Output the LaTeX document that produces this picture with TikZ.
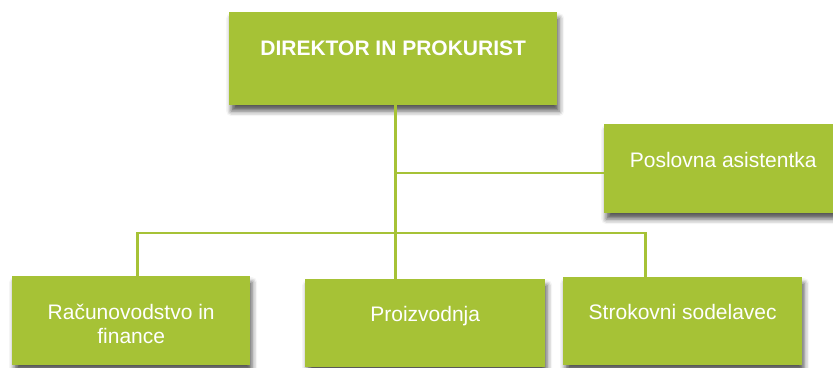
\documentclass[tikz,border=0pt]{standalone}
\usepackage{fontspec}
\setmainfont{Liberation Sans}
\usetikzlibrary{shadows.blur}
\definecolor{zelena}{RGB}{166,194,54}

\begin{document}
\begin{tikzpicture}[x=1pt,y=-1pt,
	enota/.style={rectangle, fill=zelena, text=white, inner sep=0pt, anchor=north west, align=center,
		font=\fontsize{21}{24}\selectfont, minimum width=238pt, text height=42pt, text depth=47pt,
		blur shadow={shadow xshift=2pt, shadow yshift=-6pt, shadow blur radius=5pt, shadow opacity=65}},
	povezava/.style={draw=zelena, line width=2.7pt}]
\useasboundingbox (0,0) rectangle (833,367);
\node [enota, minimum width=328pt, text height=43pt, text depth=50pt, font=\fontsize{21}{24}\selectfont\bfseries] (dir) at (229,12) {DIREKTOR IN PROKURIST};
\node [enota, text height=43pt, text depth=46pt] (asist) at (604,124) {Poslovna asistentka};
\node [enota, text height=67pt, text depth=22pt] (racun) at (12,276) {Računovodstvo in\\finance};
\node [enota, minimum width=240pt, text depth=46pt] (proiz) at (305,279) {Proizvodnja};
\node [enota, minimum width=239pt, text depth=46pt] (strok) at (563,277) {Strokovni sodelavec};
\coordinate (deblo) at (395,173);
\coordinate (vodilo) at (395,233);
\draw [povezava] ([xshift=2pt]dir.south) -- ([xshift=2pt]dir.south |- proiz.north);
\draw [povezava] (deblo) -- (deblo -| asist.west);
\draw [povezava] ([xshift=6pt]racun.north) |- (vodilo) -| ([xshift=-37.5pt]strok.north);
\end{tikzpicture}
\end{document}
